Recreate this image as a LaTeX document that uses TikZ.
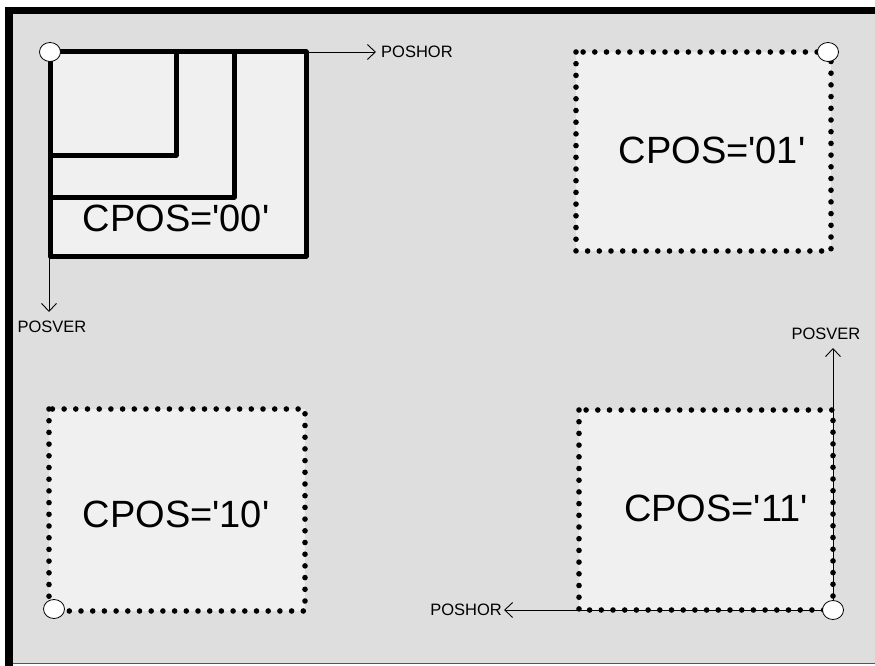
\documentclass[tikz,border=0pt]{standalone}
\usepackage{fontspec}
\setmainfont{Liberation Sans}
\usetikzlibrary{arrows.meta,shapes.geometric}
\definecolor{bgc}{HTML}{DEDEDE}
\definecolor{boxc}{HTML}{F0F0F0}
\definecolor{edgec}{HTML}{555555}
\newcommand{\sq}{\textquotesingle}
\tikzset{
  solidbox/.style={draw=black, fill=boxc, line width=5pt, line join=round},
  dotbox/.style={draw=black, fill=boxc, line width=5.6pt, line cap=round, dash pattern=on 0pt off 11.7pt},
  origin/.style={draw=black, fill=white, line width=0.8pt, ellipse, minimum width=21pt, minimum height=19pt, inner sep=0pt},
  axis/.style={draw=black, line width=0.9pt, -{Straight Barb[length=8pt, width=15pt, line width=0.9pt]}},
  biglabel/.style={font=\fontsize{38}{40}\selectfont, inner sep=0pt},
  smalllabel/.style={font=\fontsize{16.5}{18}\selectfont, inner sep=0pt},
}
\begin{document}
\begin{tikzpicture}[x=1pt, y=-1pt]
\useasboundingbox (0,0) rectangle (875,666);
% background frame
\fill[bgc] (5,7) rectangle (875,664);
\draw[edgec, line width=1pt] (5,663.5) -- (875,663.5);
\draw[black, line width=7.5pt] (9,666) -- (9,10.5) -- (875,10.5);

% box 00
\draw[solidbox] (50,52) rectangle (306,256);
\draw[black, line width=5pt, line join=round] (50,155) -- (176,155) -- (176,52);
\draw[black, line width=5pt, line join=round] (50,197) -- (234,197) -- (234,52);
\node[biglabel] (t00) at (176,218) {CPOS=\sq 00\sq};
\coordinate (o00) at (50,52);
\coordinate (h00) at (376,52);
\coordinate (v00) at (49,312);
\draw[axis] (o00) -- (h00);
\draw[axis] (49,256) -- (v00);
\node[origin] (c00) at (o00) {};
\node[smalllabel, anchor=west] (lh00) at (381,52) {POSHOR};
\node[smalllabel] (lv00) at (52,327) {POSVER};

% box 01
\draw[dotbox] (576,52) rectangle (831,251);
\node[biglabel] (t01) at (712,150) {CPOS=\sq 01\sq};
\node[origin] (c01) at (828,52) {};

% box 10
\draw[dotbox] (49,409) rectangle (305,611);
\node[biglabel] (t10) at (176,514) {CPOS=\sq 10\sq};
\node[origin] (c10) at (54,609) {};

% box 11
\draw[dotbox] (579,410) rectangle (833,610);
\node[biglabel] (t11) at (716,508) {CPOS=\sq 11\sq};
\coordinate (o11) at (833,610);
\coordinate (h11) at (504,610);
\coordinate (v11) at (833,348);
\draw[axis] (o11) -- (h11);
\draw[axis] (o11) -- (v11);
\node[origin] (c11) at (o11) {};
\node[smalllabel, anchor=east] (lh11) at (502,610) {POSHOR};
\node[smalllabel] (lv11) at (826,334) {POSVER};
\end{tikzpicture}
\end{document}
